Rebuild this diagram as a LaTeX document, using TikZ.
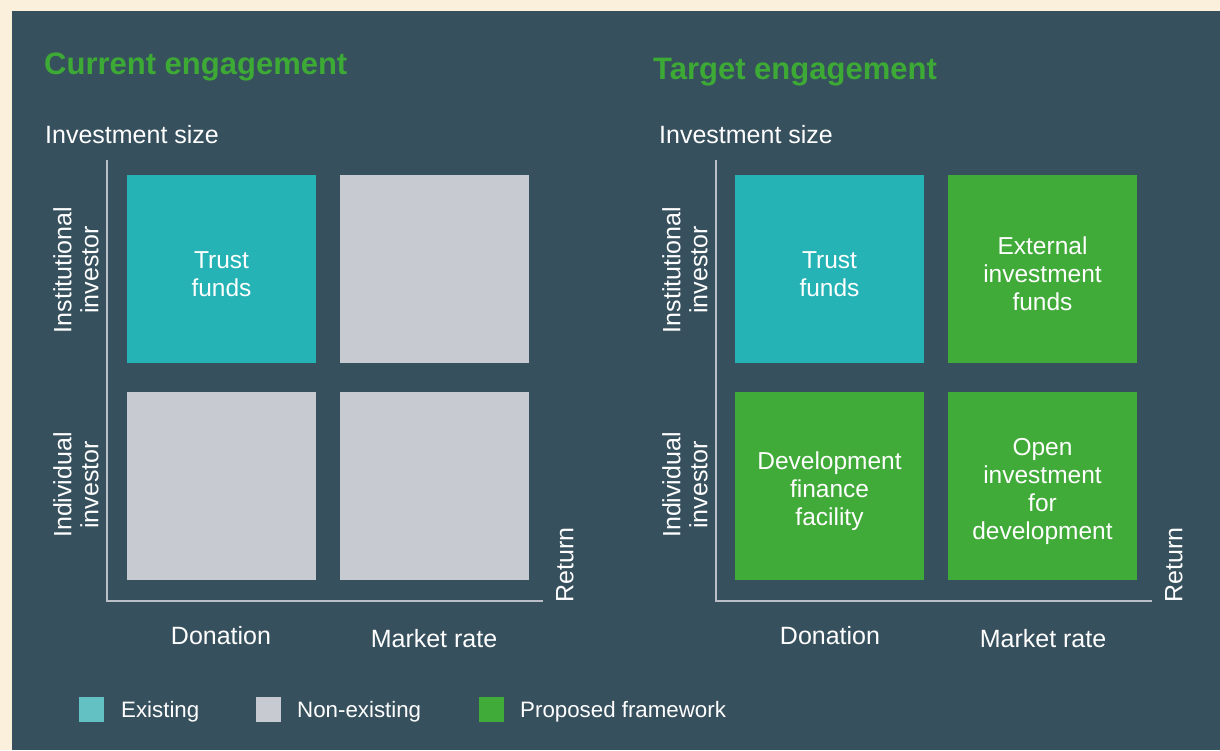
\documentclass[tikz,border=0pt]{standalone}
\usepackage{fontspec}
\setmainfont{Liberation Sans}
\usetikzlibrary{positioning}
\definecolor{mycream}{RGB}{250, 240, 220}
\definecolor{mypanel}{RGB}{55, 80, 93}
\definecolor{myteal}{RGB}{37, 179, 181}
\definecolor{mylightteal}{RGB}{99, 193, 196}
\definecolor{mygray1}{RGB}{200, 202, 210}
\definecolor{mygreen}{RGB}{65, 171, 57}
\definecolor{mytitle}{RGB}{61, 170, 53}
\definecolor{myaxis}{RGB}{187, 190, 198}
\tikzset{
  cell/.style = {minimum width=189pt, minimum height=188pt, inner sep=0pt},
  celltext/.style = {text=white, align=center, inner sep=0pt, font=\fontsize{24.5}{28}\selectfont},
  lbl/.style = {text=white, align=center, inner sep=0pt, font=\fontsize{25}{27}\selectfont},
  title/.style = {text=mytitle, inner sep=0pt, anchor=base west, font=\fontsize{31}{34}\selectfont\bfseries},
  axis/.style = {myaxis, line width=2.5pt},
  key/.style = {minimum size=25pt, inner sep=0pt},
  keytext/.style = {text=white, inner sep=0pt, anchor=west, font=\fontsize{22.3}{26}\selectfont}
}
\begin{document}
\begin{tikzpicture}[x=1pt, y=-1pt]
\fill[mycream] (0,0) rectangle (1220,750);
\fill[mypanel] (12,11) rectangle (1220,750);
% titles
\node[title] (cur) at (44,74) {Current engagement};
\node[title] (tgt) at (653,79) {Target engagement};
% axes and axis labels for both panels
\foreach \dx/\p/\sx in {0/1/45, 609/2/50}{
\begin{scope}[xshift=\dx pt]
\coordinate (top\p) at (107,160);
\coordinate (o\p) at (107,601);
\coordinate (end\p) at (543,601);
\draw[axis] (top\p) -- (o\p) -- (end\p);
\node[lbl, anchor=base west] (size\p) at (\sx,143) {Investment size};
\node[lbl, rotate=90] (inst\p) at (76,270) {Institutional\\investor};
\node[lbl, rotate=90] (indiv\p) at (76,485) {Individual\\investor};
\node[lbl, rotate=90] (ret\p) at (565,565) {Return};
\node[lbl] (don\p) at (221,636) {Donation};
\node[lbl] (mkt\p) at (434,639) {Market rate};
\end{scope}
}
% current engagement
\node[cell, fill=myteal] (tl1) at (221.5,269) {};
\node[celltext] (tl1t) at ([yshift=-5pt]tl1.center) {Trust\\funds};
\node[cell, fill=mygray1] (tr1) at (434.5,269) {};
\node[cell, fill=mygray1] (bl1) at (221.5,486) {};
\node[cell, fill=mygray1] (br1) at (434.5,486) {};
% target engagement
\node[cell, fill=myteal] (tl2) at (829.5,269) {};
\node[celltext] (tl2t) at ([yshift=-5pt]tl2.center) {Trust\\funds};
\node[cell, fill=mygreen] (tr2) at (1042.5,269) {};
\node[celltext] (tr2t) at ([yshift=-5pt]tr2.center) {External\\investment\\funds};
\node[cell, fill=mygreen] (bl2) at (829.5,486) {};
\node[celltext] (bl2t) at ([yshift=-5pt]bl2.center) {Development\\finance\\facility};
\node[cell, fill=mygreen] (br2) at (1042.5,486) {};
\node[celltext] (br2t) at ([yshift=-5pt]br2.center) {Open\\investment\\for\\development};
% legend
\node[key, fill=mylightteal] (k1) at (91.5,709.5) {};
\node[keytext] (k1t) at (121,712) {Existing};
\node[key, fill=mygray1] (k2) at (268,709.5) {};
\node[keytext] (k2t) at (297,712) {Non-existing};
\node[key, fill=mygreen] (k3) at (491,709.5) {};
\node[keytext] (k3t) at (520,712) {Proposed framework};
\end{tikzpicture}
\end{document}
